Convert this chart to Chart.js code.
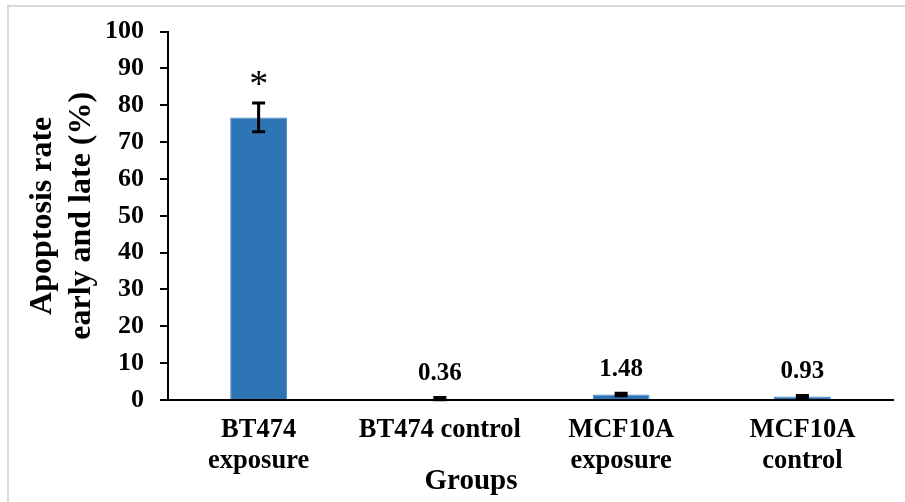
<!DOCTYPE html>
<html>
<head>
<meta charset="utf-8">
<script src="https://cdn.jsdelivr.net/npm/chart.js@4.4.0/dist/chart.umd.min.js"></script>
<style>
  html, body { margin: 0; padding: 0; background: #fff; }
  #wrap { width: 905px; height: 502px; }
</style>
</head>
<body>
<div id="wrap"><canvas id="myChart" width="905" height="502"></canvas></div>
<script>
const groups = [['BT474', 'exposure'], 'BT474 control', ['MCF10A', 'exposure'], ['MCF10A', 'control']];
const rates = [76.7, 0.36, 1.48, 0.93];
const errors = [3.9, 0.3, 0.35, 0.3];
const barLabels = ['*', '0.36', '1.48', '0.93'];
const xTitle = 'Groups';
const yTitle = ['Apoptosis rate', 'early and late (%)'];

const serif = '"Liberation Serif", "Times New Roman", serif';

// error bars, value labels, x title and frame
const extras = {
  id: 'extras',
  beforeDraw(chart) {
    const ctx = chart.ctx;
    ctx.save();
    ctx.strokeStyle = '#d9d9d9';
    ctx.lineWidth = 2;
    ctx.beginPath();
    ctx.moveTo(8, 502);
    ctx.lineTo(8, 6);
    ctx.lineTo(905, 6);
    ctx.stroke();
    ctx.restore();
  },
  afterDatasetsDraw(chart) {
    const ctx = chart.ctx;
    const y = chart.scales.y;
    const meta = chart.getDatasetMeta(0);
    ctx.save();
    meta.data.forEach((bar, i) => {
      const top = y.getPixelForValue(rates[i] + errors[i]);
      const bot = y.getPixelForValue(rates[i] - errors[i]);
      ctx.strokeStyle = '#000';
      ctx.lineWidth = 3;
      ctx.beginPath();
      ctx.moveTo(bar.x, top);
      ctx.lineTo(bar.x, bot);
      ctx.moveTo(bar.x - 6.5, top);
      ctx.lineTo(bar.x + 6.5, top);
      ctx.moveTo(bar.x - 6.5, bot);
      ctx.lineTo(bar.x + 6.5, bot);
      ctx.stroke();

      ctx.fillStyle = '#000';
      ctx.textAlign = 'center';
      ctx.textBaseline = 'middle';
      if (barLabels[i] === '*') {
        ctx.font = '38px ' + serif;
        ctx.fillText(barLabels[i], bar.x, top - 17);
      } else {
        ctx.font = 'bold 25px ' + serif;
        ctx.fillText(barLabels[i], bar.x, top - 24);
      }
    });
    ctx.font = 'bold 29px ' + serif;
    ctx.textAlign = 'center';
    ctx.textBaseline = 'middle';
    ctx.fillText(xTitle, 471, 482);
    ctx.restore();
  }
};

new Chart(document.getElementById('myChart'), {
  type: 'bar',
  data: {
    labels: groups,
    datasets: [{
      data: rates,
      backgroundColor: '#2E75B6',
      borderColor: '#4A8AC8',
      borderWidth: 1,
      categoryPercentage: 1,
      barPercentage: 0.314
    }]
  },
  options: {
    responsive: false,
    animation: false,
    layout: { padding: { left: 10, top: 29, right: 12, bottom: 0 } },
    plugins: {
      legend: { display: false },
      tooltip: { enabled: false }
    },
    scales: {
      x: {
        grid: { display: false, drawTicks: false },
        border: { display: true, color: '#000', width: 2 },
        ticks: {
          color: '#000',
          padding: 15,
          maxRotation: 0,
          font: { family: serif, size: 26.5, weight: 'bold', lineHeight: 1.17 }
        },
        afterFit(scale) { scale.height = 102; }
      },
      y: {
        min: 0,
        max: 100,
        grid: { drawOnChartArea: false, drawTicks: true, tickLength: 8, color: '#000', lineWidth: 2 },
        border: { display: true, color: '#000', width: 2 },
        ticks: {
          stepSize: 10,
          color: '#000',
          padding: 16,
          font: { family: serif, size: 26, weight: 'bold' }
        },
        title: {
          display: true,
          text: yTitle,
          color: '#000',
          padding: { top: 13.5, bottom: 0 },
          font: { family: serif, size: 32, weight: 'bold', lineHeight: 1.22 }
        },
        afterFit(scale) { scale.width = 158; }
      }
    }
  },
  plugins: [extras]
});
</script>
</body>
</html>
